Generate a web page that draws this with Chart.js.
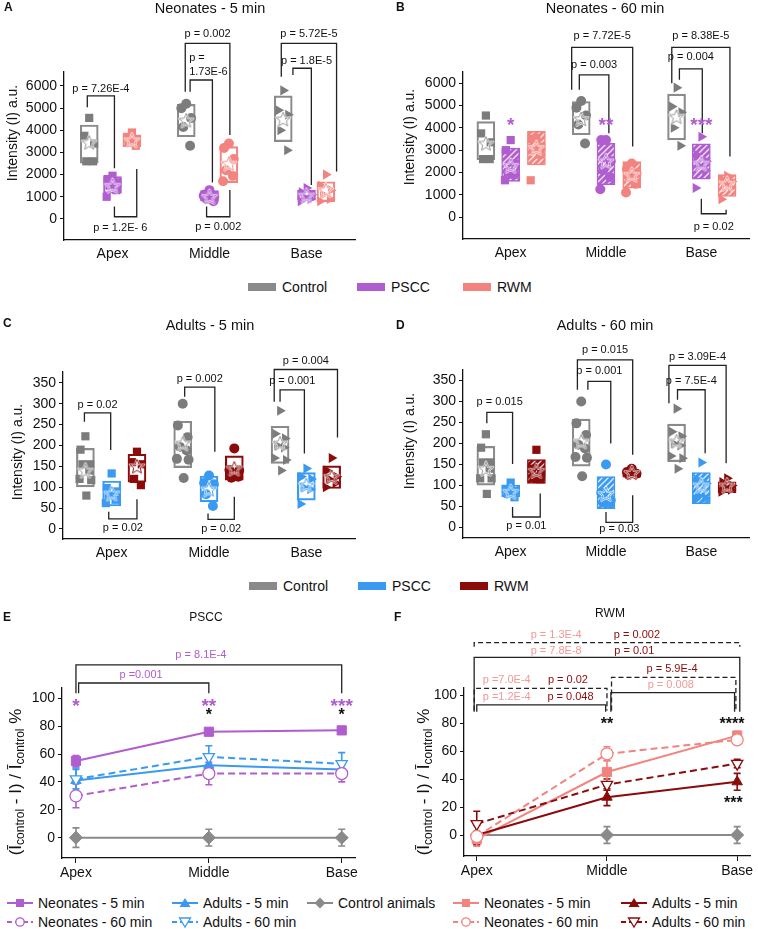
<!DOCTYPE html>
<html>
<head>
<meta charset="utf-8">
<title>Intensity by cochlear region</title>
<script src="https://cdn.jsdelivr.net/npm/chart.js@4.4.1/dist/chart.umd.min.js"></script>
<style>
  body { margin: 0; background: #fff; font-family: "Liberation Sans", Arial, sans-serif; color: #111; }
  #page { position: relative; width: 758px; height: 929px; overflow: hidden; }
  .panel { position: absolute; }
  .letter { position: absolute; font-weight: bold; font-size: 12px; line-height: 14px; }
  .title { position: absolute; font-size: 14.5px; line-height: 16px; transform: translateX(-50%); white-space: nowrap; }
  .title.small { font-size: 12px; line-height: 14px; }
  .leg { position: absolute; font-size: 14px; line-height: 16px; white-space: nowrap; display: flex; align-items: center; }
  .sw { display: inline-block; width: 28px; height: 8px; margin-right: 6px; }
  .leg svg { margin-right: 5px; }
</style>
</head>
<body>
<div id="page">
  <div class="panel" style="left:0;top:0;width:378px;height:270px"><canvas id="chartA"></canvas></div>
  <div class="panel" style="left:378px;top:0;width:380px;height:270px"><canvas id="chartB"></canvas></div>
  <div class="panel" style="left:0;top:300px;width:378px;height:270px"><canvas id="chartC"></canvas></div>
  <div class="panel" style="left:378px;top:300px;width:380px;height:270px"><canvas id="chartD"></canvas></div>
  <div class="panel" style="left:0;top:600px;width:378px;height:285px"><canvas id="chartE"></canvas></div>
  <div class="panel" style="left:378px;top:600px;width:380px;height:285px"><canvas id="chartF"></canvas></div>

  <div class="letter" style="left:4px;top:0">A</div>
  <div class="letter" style="left:396px;top:0">B</div>
  <div class="letter" style="left:3px;top:316px">C</div>
  <div class="letter" style="left:396px;top:318px">D</div>
  <div class="letter" style="left:3px;top:610px">E</div>
  <div class="letter" style="left:394px;top:610px">F</div>

  <div class="title" style="left:210px;top:0">Neonates - 5 min</div>
  <div class="title" style="left:605px;top:0">Neonates - 60 min</div>
  <div class="title" style="left:210px;top:317px">Adults - 5 min</div>
  <div class="title" style="left:605px;top:317px">Adults - 60 min</div>
  <div class="title small" style="left:206px;top:610px">PSCC</div>
  <div class="title small" style="left:610px;top:606px">RWM</div>

  <div class="leg" style="left:248px;top:279px"><span class="sw" style="background:#8a8a8a"></span>Control</div>
  <div class="leg" style="left:357px;top:279px"><span class="sw" style="background:#b05dcf"></span>PSCC</div>
  <div class="leg" style="left:463px;top:279px"><span class="sw" style="background:#f2837f"></span>RWM</div>
  <div class="leg" style="left:249px;top:578px"><span class="sw" style="background:#8a8a8a"></span>Control</div>
  <div class="leg" style="left:358px;top:578px"><span class="sw" style="background:#3a9af2"></span>PSCC</div>
  <div class="leg" style="left:460px;top:578px"><span class="sw" style="background:#8b0b0b"></span>RWM</div>
  <div id="lineLegend"></div>
</div>

<script>
const regions = ['Apex', 'Middle', 'Base'];
const neoTicks = [0, 1000, 2000, 3000, 4000, 5000, 6000];
const adultTicks = [0, 50, 100, 150, 200, 250, 300, 350];
const ratioTicks = [0, 20, 40, 60, 80, 100];

// A - neonates 5 min (points per region, box [low, high], mean)
const neo5Control = [[4560, 3750, 3400, 2600, 2600], [5200, 5000, 4550, 4150, 3300], [5800, 4900, 4700, 4000, 3100]];
const neo5ControlBox = [[2520, 4240], [3710, 5170], [3490, 5550]];
const neo5ControlMean = [3450, 4450, 4500];
const neo5Pscc = [[1950, 1800, 1650, 1500, 1300, 1000], [1300, 1100, 1000, 900, 800, 1050], [1400, 1200, 1100, 1000, 900, 800]];
const neo5PsccBox = [[1160, 1910], [800, 1280], [850, 1300]];
const neo5PsccMean = [1500, 1000, 1050];
const neo5Rwm = [[3900, 3700, 3600, 3500, 3300], [3400, 3200, 2700, 2200, 1950, 1700], [2000, 1500, 1300, 1100, 900, 800]];
const neo5RwmBox = [[3260, 3790], [1640, 3260], [780, 1680]];
const neo5RwmMean = [3550, 2500, 1300];

// B - neonates 60 min
const neo60Control = [[4550, 3750, 3350, 2600, 2600], [5200, 4900, 4550, 4150, 3300], [5800, 4950, 4700, 4000, 3200]];
const neo60ControlBox = [[2570, 4280], [3690, 5180], [3460, 5510]];
const neo60ControlMean = [3300, 4400, 4500];
const neo60Pscc = [[3450, 3000, 2400, 2000, 1900, 1650], [3450, 3450, 2500, 2100, 1800, 1250], [3600, 2800, 2500, 2300, 2100, 1300]];
const neo60PsccBox = [[1600, 3090], [1450, 3310], [1700, 3280]];
const neo60PsccMean = [2300, 2500, 2400];
const neo60Rwm = [[3550, 3500, 3150, 3000, 2800, 1650], [2400, 2150, 1950, 1800, 1500, 1100], [1850, 1700, 1600, 1500, 1300, 800]];
const neo60RwmBox = [[2340, 3840], [1300, 2490], [930, 1900]];
const neo60RwmMean = [3100, 1900, 1500];

// C - adults 5 min
const adu5Control = [[222, 190, 155, 155, 140, 120, 117, 80], [300, 248, 220, 197, 188, 168, 166, 122], [283, 228, 217, 200, 195, 170, 165, 140]];
const adu5ControlBox = [[101, 193], [147, 258], [157, 246]];
const adu5ControlMean = [140, 205, 205];
const adu5Pscc = [[133, 98, 90, 80, 70, 62], [128, 110, 107, 83, 55], [145, 125, 120, 100, 95, 60]];
const adu5PsccBox = [[55, 115], [65, 127], [69, 135]];
const adu5PsccMean = [85, 95, 105];
const adu5Rwm = [[185, 160, 155, 120, 105], [193, 141, 140, 123, 125], [170, 140, 125, 120, 110, 100]];
const adu5RwmBox = [[112, 179], [117, 175], [97, 151]];
const adu5RwmMean = [150, 145, 125];

// D - adults 60 min
const adu60Control = [[222, 190, 155, 155, 140, 117, 117, 80], [300, 248, 220, 197, 188, 168, 166, 122], [283, 228, 217, 200, 195, 170, 165, 140]];
const adu60ControlBox = [[101, 193], [146, 258], [157, 246]];
const adu60ControlMean = [140, 205, 205];
const adu60Pscc = [[107, 92, 87, 80, 72], [150, 83, 65, 60, 58], [155, 115, 105, 75, 70, 68]];
const adu60PsccBox = [[73, 101], [45, 121], [57, 131]];
const adu60PsccMean = [85, 80, 100];
const adu60Rwm = [[185, 140, 128, 118, 115], [140, 132, 128, 125], [117, 108, 100, 95, 90, 85]];
const adu60RwmBox = [[105, 162], [120, 135], [83, 109]];
const adu60RwmMean = [135, 130, 100];

// E - PSCC, (Icontrol - I) / Icontrol %  (mean, error)
const psccNeo5 = [55, 76, 77], psccNeo5Err = [4, 2, 2];
const psccNeo60 = [30, 46, 46], psccNeo60Err = [8.5, 8, 6];
const psccAdu5 = [41, 52, 49], psccAdu5Err = [9, 6, 6];
const psccAdu60 = [42, 58, 53], psccAdu60Err = [7, 8, 8];
const controlRatio = [0, 0, 0], controlRatioErr = [7, 6, 6];

// F - RWM
const rwmNeo5 = [-3, 45, 71], rwmNeo5Err = [5, 8, 3];
const rwmNeo60 = [-1, 58, 68], rwmNeo60Err = [4, 5, 3];
const rwmAdu5 = [0, 27, 38], rwmAdu5Err = [7, 6, 6];
const rwmAdu60 = [8, 36, 51], rwmAdu60Err = [9, 4, 3];

// significance brackets (x in region units, y in data units)
const neo5Brackets = [
  { x1: 0.74, x2: 1.02, y: 5550, y1: 5040, y2: 2290, text: 'p = 7.26E-4', ty: 5850 },
  { x1: 1.02, x2: 1.25, y: 100, y1: 560, y2: 2250, text: 'p = 1.2E- 6', ty: -420, tx: 1.08 },
  { x1: 1.75, x2: 2.21, y: 7920, y1: 5740, y2: 3790, text: 'p = 0.002', ty: 8350 },
  { x1: 1.80, x2: 2.03, y: 6270, y1: 5740, y2: 1640 },
  { x1: 1.97, x2: 2.21, y: 100, y1: 560, y2: 1310, text: 'p = 0.002', ty: -350 },
  { x1: 2.74, x2: 3.31, y: 7920, y1: 6420, y2: 2140, text: 'p = 5.72E-5', ty: 8350 },
  { x1: 2.86, x2: 3.05, y: 6800, y1: 6500, y2: 1530, text: 'p = 1.8E-5', ty: 7150, tx: 3.0 }
];
const neo5Labels = [
  { x: 1.79, y: 7250, text: 'p =', align: 'left' },
  { x: 1.79, y: 6620, text: '1.73E-6', align: 'left' }
];
const neo60Brackets = [
  { x1: 1.64, x2: 2.28, y: 7600, y1: 5700, y2: 3160, text: 'p = 7.72E-5', ty: 8130 },
  { x1: 1.72, x2: 2.03, y: 6370, y1: 5700, y2: 3760, text: 'p = 0.003', ty: 6820 },
  { x1: 2.69, x2: 3.30, y: 7600, y1: 6000, y2: 2720, text: 'p = 8.38E-5', ty: 8130 },
  { x1: 2.77, x2: 3.01, y: 6640, y1: 6150, y2: 3760, text: 'p = 0.004', ty: 7190 },
  { x1: 3.00, x2: 3.26, y: 150, y1: 820, y2: 330, text: 'p = 0.02', ty: -420 }
];
const neo60Marks = [
  { x: 1, y: 4360, text: '*' }, { x: 2, y: 4360, text: '**' }, { x: 3, y: 4360, text: '***' }
];
const adu5Brackets = [
  { x1: 0.72, x2: 0.99, y: 278, y1: 257, y2: 189, text: 'p = 0.02', ty: 298 },
  { x1: 0.97, x2: 1.26, y: 24, y1: 41, y2: 71, text: 'p = 0.02', ty: 3 },
  { x1: 1.75, x2: 2.06, y: 340, y1: 317, y2: 185, text: 'p = 0.002', ty: 360 },
  { x1: 1.99, x2: 2.26, y: 23, y1: 37, y2: 77, text: 'p = 0.02', ty: 1 },
  { x1: 2.67, x2: 3.32, y: 382, y1: 305, y2: 219, text: 'p = 0.004', ty: 402 },
  { x1: 2.73, x2: 2.98, y: 333, y1: 305, y2: 181, text: 'p = 0.001', ty: 354 }
];
const adu60Brackets = [
  { x1: 0.75, x2: 1.02, y: 274, y1: 248, y2: 151, text: 'p = 0.015', ty: 298 },
  { x1: 1.02, x2: 1.31, y: 25, y1: 49, y2: 81, text: 'p = 0.01', ty: 4 },
  { x1: 1.70, x2: 2.28, y: 399, y1: 328, y2: 173, text: 'p = 0.015', ty: 422 },
  { x1: 1.81, x2: 2.05, y: 348, y1: 328, y2: 200, text: 'p = 0.001', ty: 372 },
  { x1: 2.00, x2: 2.28, y: 12, y1: 37, y2: 77, text: 'p = 0.03', ty: -4 },
  { x1: 2.66, x2: 3.26, y: 386, y1: 296, y2: 153, text: 'p = 3.09E-4', ty: 407 },
  { x1: 2.75, x2: 3.04, y: 328, y1: 304, y2: 177, text: 'p = 7.5E-4', ty: 349 }
];
const psccBrackets = [
  { x1: 0.02, x2: 1, y: 111, y1: 103.6, y2: 103.6 },
  { x1: 0, x2: 2, y: 124, y1: 103.6, y2: 103.6 }
];
const psccLabels = [
  { x: 0.49, y: 117, text: 'p =0.001', color: '#b05dcf' },
  { x: 0.94, y: 131, text: 'p = 8.1E-4', color: '#b05dcf' }
];
const psccMarks = [
  { x: 0, y: 98, text: '*' }, { x: 1, y: 98, text: '**' }, { x: 2, y: 98, text: '***' },
  { x: 1, y: 91, text: '*', color: '#111', size: 16 }, { x: 2, y: 91, text: '*', color: '#111', size: 16 }
];
const rwmBrackets = [
  { x1: 0.0, x2: 0.99, y: 92.9, y1: 88, y2: 88 },
  { x1: -0.02, x2: 1.0, y: 104.8, y1: 89, y2: 89, dash: true },
  { x1: 1.03, x2: 1.98, y: 101.7, y1: 88, y2: 88 },
  { x1: 1.035, x2: 1.99, y: 112.6, y1: 89, y2: 89, dash: true },
  { x1: -0.02, x2: 2.02, y: 126.9, y1: 88, y2: 88 },
  { x1: -0.02, x2: 2.02, y: 137.4, y1: 134.5, y2: 134.5, dash: true }
];
const rwmLabels = [
  { x: 0.61, y: 142.9, text: 'p = 1.3E-4', color: '#f29a96' },
  { x: 1.23, y: 142.9, text: 'p = 0.002', color: '#8b0b0b' },
  { x: 0.61, y: 131.7, text: 'p = 7.8E-8', color: '#f29a96' },
  { x: 1.21, y: 131.7, text: 'p = 0.01', color: '#8b0b0b' },
  { x: 0.23, y: 110.7, text: 'p =7.0E-4', color: '#f29a96' },
  { x: 0.70, y: 110.7, text: 'p = 0.02', color: '#8b0b0b' },
  { x: 0.23, y: 98.8, text: 'p =1.2E-4', color: '#f29a96' },
  { x: 0.72, y: 98.8, text: 'p = 0.048', color: '#8b0b0b' },
  { x: 1.50, y: 118.3, text: 'p = 5.9E-4', color: '#8b0b0b' },
  { x: 1.49, y: 107.1, text: 'p = 0.008', color: '#f29a96' }
];
const rwmMarks = [
  { x: 1, y: 82, text: '**', color: '#111', size: 16 },
  { x: 1.96, y: 82, text: '****', color: '#111', size: 16 },
  { x: 1.97, y: 26, text: '***', color: '#111', size: 16 }
];

const FONT = '"Liberation Sans", Arial, sans-serif';
const grey = '#8a8a8a', greyDot = '#7c7c7c';
const purple = '#b05dcf', salmon = '#f2837f', blue = '#3a9af2', darkred = '#8b0b0b';
const shapes = ['rect', 'circle', 'triangle'];
const jitter = [0, -0.05, 0.05, -0.03, 0.04, -0.06, 0.06, 0.01];

Chart.defaults.font.family = FONT;
Chart.defaults.font.size = 14;
Chart.defaults.color = '#111';
Chart.defaults.animation = false;
Chart.defaults.maintainAspectRatio = false;
Chart.defaults.plugins.legend.display = false;
Chart.defaults.plugins.tooltip.enabled = false;

function hatch(color) {
  const c = document.createElement('canvas');
  c.width = 6; c.height = 6;
  const g = c.getContext('2d');
  g.fillStyle = color; g.fillRect(0, 0, 6, 6);
  g.strokeStyle = 'rgba(255,255,255,0.85)'; g.lineWidth = 1.3;
  g.beginPath();
  g.moveTo(0, 6); g.lineTo(6, 0);
  g.moveTo(-1, 1); g.lineTo(1, -1);
  g.moveTo(5, 7); g.lineTo(7, 5);
  g.stroke();
  return g.createPattern(c, 'repeat');
}

function starImg(color) {
  const c = document.createElement('canvas');
  c.width = 18; c.height = 18;
  const g = c.getContext('2d');
  g.beginPath();
  for (let i = 0; i < 10; i++) {
    const r = i % 2 ? 3.4 : 7.6, a = -Math.PI / 2 + i * Math.PI / 5;
    g.lineTo(9 + r * Math.cos(a), 9.6 + r * Math.sin(a));
  }
  g.closePath();
  g.lineJoin = 'round';
  g.strokeStyle = 'rgba(255,255,255,0.9)'; g.lineWidth = 2.2; g.stroke();
  g.strokeStyle = color; g.lineWidth = 0.9; g.stroke();
  return c;
}

function drawRatioTitle(ctx, cx, cy) {
  const parts = [['(Ī', 0], ['control', 1], [' - I) / Ī', 0], ['control', 1], [' %', 0]];
  const big = '17px ' + FONT, small = '12px ' + FONT;
  ctx.save();
  ctx.translate(cx, cy);
  ctx.rotate(-Math.PI / 2);
  let w = 0;
  parts.forEach(p => { ctx.font = p[1] ? small : big; w += ctx.measureText(p[0]).width; });
  let pos = -w / 2;
  ctx.textAlign = 'left'; ctx.textBaseline = 'alphabetic'; ctx.fillStyle = '#111';
  parts.forEach(p => {
    ctx.font = p[1] ? small : big;
    ctx.fillText(p[0], pos, p[1] ? 9 : 6);
    pos += ctx.measureText(p[0]).width;
  });
  ctx.restore();
}

function annotations(spec) {
  return {
    id: 'annot',
    beforeDatasetsDraw(chart) {
      const ctx = chart.ctx, xs = chart.scales.x, ys = chart.scales.y;
      chart.data.datasets.forEach(ds => {
        if (!ds.errors) return;
        ctx.save();
        ctx.strokeStyle = ds.borderColor; ctx.lineWidth = 1.6;
        ds.data.forEach((p, k) => {
          const px = xs.getPixelForValue(p.x);
          const top = ys.getPixelForValue(p.y + ds.errors[k]), bot = ys.getPixelForValue(p.y - ds.errors[k]);
          ctx.beginPath();
          ctx.moveTo(px, top); ctx.lineTo(px, bot);
          ctx.moveTo(px - 3.5, top); ctx.lineTo(px + 3.5, top);
          ctx.moveTo(px - 3.5, bot); ctx.lineTo(px + 3.5, bot);
          ctx.stroke();
        });
        ctx.restore();
      });
    },
    afterDatasetsDraw(chart) {
      const ctx = chart.ctx, xs = chart.scales.x, ys = chart.scales.y;
      const X = v => xs.getPixelForValue(v), Y = v => ys.getPixelForValue(v);
      ctx.save();
      (spec.brackets || []).forEach(b => {
        ctx.strokeStyle = '#222'; ctx.lineWidth = 1.3;
        ctx.setLineDash(b.dash ? [5, 3] : []);
        ctx.beginPath();
        ctx.moveTo(X(b.x1), Y(b.y1)); ctx.lineTo(X(b.x1), Y(b.y));
        ctx.lineTo(X(b.x2), Y(b.y)); ctx.lineTo(X(b.x2), Y(b.y2));
        ctx.stroke();
      });
      ctx.setLineDash([]);
      ctx.font = '11px ' + FONT; ctx.textBaseline = 'middle';
      (spec.brackets || []).forEach(b => {
        if (!b.text) return;
        ctx.fillStyle = '#111'; ctx.textAlign = 'center';
        ctx.fillText(b.text, X(b.tx !== undefined ? b.tx : (b.x1 + b.x2) / 2), Y(b.ty));
      });
      (spec.labels || []).forEach(l => {
        ctx.fillStyle = l.color || '#111'; ctx.textAlign = l.align || 'center';
        ctx.fillText(l.text, X(l.x), Y(l.y));
      });
      (spec.marks || []).forEach(m => {
        const size = m.size || 19;
        ctx.font = 'bold ' + size + 'px ' + FONT;
        ctx.fillStyle = m.color || spec.markColor || '#111';
        ctx.textAlign = 'center'; ctx.textBaseline = 'alphabetic';
        ctx.fillText(m.text, X(m.x), Y(m.y) + size * 0.58);
      });
      if (spec.yTitle) {
        ctx.translate(spec.yTitle.x, spec.yTitle.y);
        ctx.rotate(-Math.PI / 2);
        ctx.font = '14px ' + FONT; ctx.fillStyle = '#111';
        ctx.textAlign = 'center'; ctx.textBaseline = 'middle';
        ctx.fillText('Intensity (I) a.u.', 0, 0);
      }
      ctx.restore();
      if (spec.ratioTitle) drawRatioTitle(ctx, spec.ratioTitle.x, spec.ratioTitle.y);
    }
  };
}

function axisBorder() { return { color: '#111', width: 1.3 }; }

function boxPanel(id, cfg) {
  const datasets = [];
  cfg.groups.forEach((g, gi) => {
    const off = cfg.offsets[gi];
    datasets.push({
      type: 'bar', order: 3,
      data: g.box.map((b, i) => ({ x: i + 1 + off, y: b })),
      backgroundColor: g.hatch ? hatch(g.color) : 'rgba(255,255,255,0)',
      borderColor: g.line || g.color, borderWidth: 1.5, borderSkipped: false,
      grouped: false, barPercentage: 1, categoryPercentage: 1, maxBarThickness: 18
    });
    datasets.push({
      type: 'scatter', order: 2,
      data: g.points.flatMap((vals, i) => vals.map((v, k) => ({ x: i + 1 + off + jitter[k], y: v, reg: i }))),
      pointStyle: c => (c.raw ? shapes[c.raw.reg] : 'circle'),
      rotation: c => (c.raw && c.raw.reg === 2 ? 90 : 0),
      pointRadius: c => (c.raw && c.raw.reg === 1 ? 5 : 5.8),
      backgroundColor: g.dot || g.color, borderColor: g.dot || g.color, borderWidth: 0
    });
    datasets.push({
      type: 'scatter', order: 1,
      data: g.mean.map((v, i) => ({ x: i + 1 + off, y: v })),
      pointStyle: starImg(g.line || g.color), pointRadius: 8
    });
  });
  new Chart(document.getElementById(id), {
    type: 'scatter',
    data: { datasets },
    options: {
      layout: { padding: { top: cfg.top, right: cfg.right, left: 0, bottom: 0 } },
      scales: {
        x: {
          type: 'linear', min: 0.5, max: 3.5, offset: false,
          afterFit: s => { s.height = cfg.xh; },
          afterBuildTicks: s => { s.ticks = regions.map((r, i) => ({ value: i + 1 })); },
          ticks: { callback: v => regions[v - 1], padding: 6, maxRotation: 0 },
          grid: { display: false, drawTicks: false, offset: false },
          border: axisBorder()
        },
        y: {
          min: cfg.min, max: cfg.max, beginAtZero: false,
          afterFit: s => { s.width = cfg.yw; },
          afterBuildTicks: s => { s.ticks = cfg.ticks.map(v => ({ value: v })); },
          ticks: { callback: v => String(v), padding: 3 },
          grid: { drawOnChartArea: false, tickLength: 4, color: '#111' },
          border: axisBorder()
        }
      }
    },
    plugins: [annotations(cfg)]
  });
}

function ratioPanel(id, cfg) {
  const datasets = cfg.series.map(s => ({
    type: 'line', order: s.order || 1,
    data: s.values.map((v, i) => ({ x: i, y: v })),
    errors: s.err,
    borderColor: s.color, borderWidth: 2, borderDash: s.dash ? [7, 4] : [],
    pointStyle: s.shape, rotation: s.rot || 0, pointRadius: s.size || 5.5,
    pointBackgroundColor: s.hollow ? '#fff' : s.color, pointBorderColor: s.color,
    pointBorderWidth: s.hollow ? 1.3 : 1, fill: false, tension: 0
  }));
  new Chart(document.getElementById(id), {
    type: 'line',
    data: { datasets },
    options: {
      layout: { padding: { top: cfg.top, right: cfg.right, left: 0, bottom: 0 } },
      scales: {
        x: {
          type: 'linear', min: cfg.xmin, max: cfg.xmax,
          afterFit: s => { s.height = cfg.xh; },
          afterBuildTicks: s => { s.ticks = regions.map((r, i) => ({ value: i })); },
          ticks: { callback: v => regions[v], padding: 2, maxRotation: 0 },
          grid: { drawOnChartArea: false, tickLength: 5, color: '#111' },
          border: axisBorder()
        },
        y: {
          min: cfg.min, max: cfg.max,
          afterFit: s => { s.width = cfg.yw; },
          afterBuildTicks: s => { s.ticks = ratioTicks.map(v => ({ value: v })); },
          ticks: { callback: v => String(v), padding: 3 },
          grid: { drawOnChartArea: false, tickLength: 4, color: '#111' },
          border: axisBorder()
        }
      }
    },
    plugins: [annotations(cfg)]
  });
}

boxPanel('chartA', {
  top: 72, right: 23, yw: 64, xh: 30, min: -950, max: 6630, ticks: neoTicks,
  offsets: [-0.24, 0, 0.2], yTitle: { x: 13, y: 133 },
  brackets: neo5Brackets, labels: neo5Labels,
  groups: [
    { points: neo5Control, box: neo5ControlBox, mean: neo5ControlMean, color: grey, dot: greyDot },
    { points: neo5Pscc, box: neo5PsccBox, mean: neo5PsccMean, color: purple },
    { points: neo5Rwm, box: neo5RwmBox, mean: neo5RwmMean, color: salmon }
  ]
});
boxPanel('chartB', {
  top: 72, right: 3, yw: 85, xh: 31, min: -980, max: 6500, ticks: neoTicks,
  offsets: [-0.26, 0, 0.27], yTitle: { x: 32, y: 137 },
  brackets: neo60Brackets, marks: neo60Marks, markColor: purple,
  groups: [
    { points: neo60Control, box: neo60ControlBox, mean: neo60ControlMean, color: grey, dot: greyDot },
    { points: neo60Pscc, box: neo60PsccBox, mean: neo60PsccMean, color: purple, hatch: true },
    { points: neo60Rwm, box: neo60RwmBox, mean: neo60RwmMean, color: salmon, hatch: true }
  ]
});
boxPanel('chartC', {
  top: 72, right: 23, yw: 63, xh: 31, min: -24, max: 376, ticks: adultTicks,
  offsets: [-0.27, 0, 0.26], yTitle: { x: 18, y: 152 },
  brackets: adu5Brackets,
  groups: [
    { points: adu5Control, box: adu5ControlBox, mean: adu5ControlMean, color: grey, dot: greyDot },
    { points: adu5Pscc, box: adu5PsccBox, mean: adu5PsccMean, color: blue },
    { points: adu5Rwm, box: adu5RwmBox, mean: adu5RwmMean, color: darkred }
  ]
});
boxPanel('chartD', {
  top: 70, right: 3, yw: 85, xh: 32, min: -25, max: 375, ticks: adultTicks,
  offsets: [-0.26, 0, 0.27], yTitle: { x: 32, y: 141 },
  brackets: adu60Brackets,
  groups: [
    { points: adu60Control, box: adu60ControlBox, mean: adu60ControlMean, color: grey, dot: greyDot },
    { points: adu60Pscc, box: adu60PsccBox, mean: adu60PsccMean, color: blue, hatch: true },
    { points: adu60Rwm, box: adu60RwmBox, mean: adu60RwmMean, color: darkred, hatch: true }
  ]
});

ratioPanel('chartE', {
  top: 88, right: 23, yw: 62, xh: 27, min: -14.6, max: 107.4, xmin: -0.105, xmax: 2.1,
  ratioTitle: { x: 15, y: 182 },
  brackets: psccBrackets, labels: psccLabels, marks: psccMarks, markColor: purple,
  series: [
    { values: controlRatio, err: controlRatioErr, color: grey, shape: 'rectRot', size: 6.5, order: 9 },
    { values: psccNeo60, err: psccNeo60Err, color: purple, shape: 'circle', hollow: true, dash: true, size: 6 },
    { values: psccAdu60, err: psccAdu60Err, color: blue, shape: 'triangle', rot: 180, hollow: true, dash: true, size: 6.5 },
    { values: psccAdu5, err: psccAdu5Err, color: blue, shape: 'triangle', size: 6 },
    { values: psccNeo5, err: psccNeo5Err, color: purple, shape: 'rect', size: 6.5 }
  ]
});
ratioPanel('chartF', {
  top: 88, right: 2, yw: 86, xh: 29, min: -15, max: 105, xmin: -0.098, xmax: 2.1,
  ratioTitle: { x: 45, y: 182 },
  brackets: rwmBrackets, labels: rwmLabels, marks: rwmMarks,
  series: [
    { values: controlRatio, err: controlRatioErr, color: grey, shape: 'rectRot', size: 6.5, order: 9 },
    { values: rwmNeo60, err: rwmNeo60Err, color: salmon, shape: 'circle', hollow: true, dash: true, size: 6 },
    { values: rwmAdu60, err: rwmAdu60Err, color: darkred, shape: 'triangle', rot: 180, hollow: true, dash: true, size: 6.5 },
    { values: rwmAdu5, err: rwmAdu5Err, color: darkred, shape: 'triangle', size: 6 },
    { values: rwmNeo5, err: rwmNeo5Err, color: salmon, shape: 'rect', size: 6.5 }
  ]
});

// line legends under panels E and F
const lineLegend = [
  { left: 7, top: 895, color: purple, shape: 'square', text: 'Neonates - 5 min' },
  { left: 7, top: 914, color: purple, shape: 'circle', dash: true, text: 'Neonates - 60 min' },
  { left: 172, top: 895, color: blue, shape: 'up', text: 'Adults - 5 min' },
  { left: 172, top: 914, color: blue, shape: 'down', dash: true, text: 'Adults - 60 min' },
  { left: 307, top: 895, color: grey, shape: 'diamond', text: 'Control animals' },
  { left: 453, top: 895, color: salmon, shape: 'square', text: 'Neonates - 5 min' },
  { left: 453, top: 914, color: salmon, shape: 'circle', dash: true, text: 'Neonates - 60 min' },
  { left: 621, top: 895, color: darkred, shape: 'up', text: 'Adults - 5 min' },
  { left: 621, top: 914, color: darkred, shape: 'down', dash: true, text: 'Adults - 60 min' }
];
function marker(item) {
  const c = item.color;
  const m = {
    square: `<rect x="9" y="2" width="8" height="8" fill="${c}"/>`,
    circle: `<circle cx="13" cy="6" r="4.2" fill="#fff" stroke="${c}" stroke-width="1.3"/>`,
    up: `<polygon points="13,1 18.5,10 7.5,10" fill="${c}"/>`,
    down: `<polygon points="7.5,2 18.5,2 13,11" fill="#fff" stroke="${c}" stroke-width="1.3"/>`,
    diamond: `<polygon points="13,0.5 18.5,6 13,11.5 7.5,6" fill="${c}"/>`
  }[item.shape];
  const dash = item.dash ? ' stroke-dasharray="5,3"' : '';
  return `<svg width="26" height="12" viewBox="0 0 26 12"><line x1="0" y1="6" x2="26" y2="6" stroke="${c}" stroke-width="2"${dash}/>${m}</svg>`;
}
document.getElementById('lineLegend').innerHTML = lineLegend.map(it =>
  `<div class="leg" style="left:${it.left}px;top:${it.top}px">${marker(it)}${it.text}</div>`).join('');
</script>
</body>
</html>
